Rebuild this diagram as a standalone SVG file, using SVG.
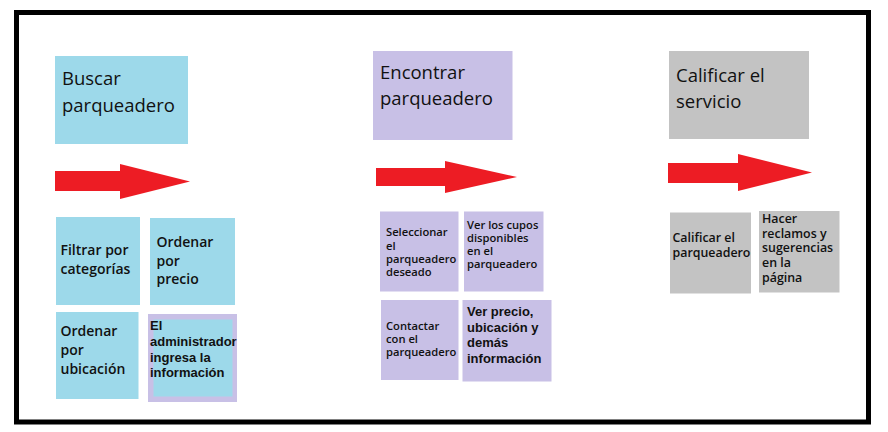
<svg xmlns="http://www.w3.org/2000/svg" width="888" height="432" viewBox="0 0 888 432">
<style>
.blue{fill:#9DD9EA}
.purple{fill:#C8C0E6}
.gray{fill:#C3C3C3}
.hdr{font-family:"Open Sans","Noto Sans",sans-serif;font-size:18.5px;fill:#111}
.sub{font-family:"Open Sans","Noto Sans",sans-serif;font-weight:600;fill:#111}
.ar{font-family:"Liberation Sans",Arial,sans-serif;font-weight:bold;font-size:13px;fill:#111}
.arrow{fill:#ED1C24}
</style>
<rect x="0" y="0" width="888" height="432" fill="#fff"/>
<rect x="16.5" y="12.5" width="852" height="409.5" fill="none" stroke="#000" stroke-width="5"/>
<g id="connectors">
<polygon class="arrow" points="55,171 120,171 120,164 190,181.5 120,199 120,191 55,191"/>
<polygon class="arrow" points="376,168 445,168 445,161 517,177 445,193 445,186 376,186"/>
<polygon class="arrow" points="668,163 738,163 738,154 812,172.5 738,191 738,183 668,183"/>
</g>
<g id="buscar">
<rect class="blue" x="55" y="56" width="133" height="88"/>
<text class="hdr" x="62" y="85">Buscar</text>
<text class="hdr" x="62" y="112">parqueadero</text>
</g>
<g id="encontrar">
<rect class="purple" x="373" y="51" width="139.5" height="89"/>
<text class="hdr" x="380" y="79">Encontrar</text>
<text class="hdr" x="380" y="105">parqueadero</text>
</g>
<g id="calificar">
<rect class="gray" x="669" y="51" width="140" height="88"/>
<text class="hdr" x="676" y="82">Calificar el</text>
<text class="hdr" x="676" y="108">servicio</text>
</g>
<g id="filtrar">
<rect class="blue" x="56" y="217" width="84" height="88"/>
<text class="sub" font-size="14" x="60.5" y="255">Filtrar por</text>
<text class="sub" font-size="14" x="60.5" y="273.5">categorías</text>
</g>
<g id="ordenar-precio">
<rect class="blue" x="150" y="218" width="85" height="87"/>
<text class="sub" font-size="14" x="156.5" y="247">Ordenar</text>
<text class="sub" font-size="14" x="156.5" y="265.5">por</text>
<text class="sub" font-size="14" x="156.5" y="284">precio</text>
</g>
<g id="ordenar-ubicacion">
<rect class="blue" x="56" y="312" width="82.5" height="87"/>
<text class="sub" font-size="14" x="60.5" y="336">Ordenar</text>
<text class="sub" font-size="14" x="60.5" y="355">por</text>
<text class="sub" font-size="14" x="60.5" y="374">ubicación</text>
</g>
<g id="administrador">
<rect class="purple" x="148" y="314" width="89" height="88"/>
<rect class="blue" x="153.5" y="319.5" width="79" height="77"/>
<text class="ar" x="150" y="330">El</text>
<text class="ar" x="150" y="346">administrador</text>
<text class="ar" x="150" y="361.5">ingresa la</text>
<text class="ar" x="150" y="377">información</text>
</g>
<g id="seleccionar">
<rect class="purple" x="380" y="211.5" width="78.5" height="80"/>
<text class="sub" font-size="11.2" x="386" y="236">Seleccionar</text>
<text class="sub" font-size="11.2" x="386" y="249.5">el</text>
<text class="sub" font-size="11.2" x="386" y="263">parqueadero</text>
<text class="sub" font-size="11.2" x="386" y="276">deseado</text>
</g>
<g id="ver-cupos">
<rect class="purple" x="464" y="211.5" width="79.5" height="80"/>
<text class="sub" font-size="11.2" x="467" y="228.5">Ver los cupos</text>
<text class="sub" font-size="11.2" x="467" y="241.5">disponibles</text>
<text class="sub" font-size="11.2" x="467" y="255">en el</text>
<text class="sub" font-size="11.2" x="467" y="268">parqueadero</text>
</g>
<g id="contactar">
<rect class="purple" x="381" y="300" width="77.5" height="80"/>
<text class="sub" font-size="11.2" x="386" y="330">Contactar</text>
<text class="sub" font-size="11.2" x="386" y="343">con el</text>
<text class="sub" font-size="11.2" x="386" y="356">parqueadero</text>
</g>
<g id="ver-precio">
<rect class="purple" x="462.5" y="300" width="89" height="81.5"/>
<text class="ar" x="467" y="316">Ver precio,</text>
<text class="ar" x="467" y="331.5">ubicación y</text>
<text class="ar" x="467" y="347">demás</text>
<text class="ar" x="467" y="362.5">información</text>
</g>
<g id="calificar-parqueadero">
<rect class="gray" x="670" y="212.5" width="81" height="81"/>
<text class="sub" font-size="12.4" x="672.5" y="241.5">Calificar el</text>
<text class="sub" font-size="12.4" x="672.5" y="257">parqueadero</text>
</g>
<g id="reclamos">
<rect class="gray" x="759" y="211" width="80.5" height="81.5"/>
<text class="sub" font-size="12.4" x="762" y="222.5">Hacer</text>
<text class="sub" font-size="12.4" x="762" y="237.5">reclamos y</text>
<text class="sub" font-size="12.4" x="762" y="252">sugerencias</text>
<text class="sub" font-size="12.4" x="762" y="267">en la</text>
<text class="sub" font-size="12.4" x="762" y="282">página</text>
</g>
</svg>
